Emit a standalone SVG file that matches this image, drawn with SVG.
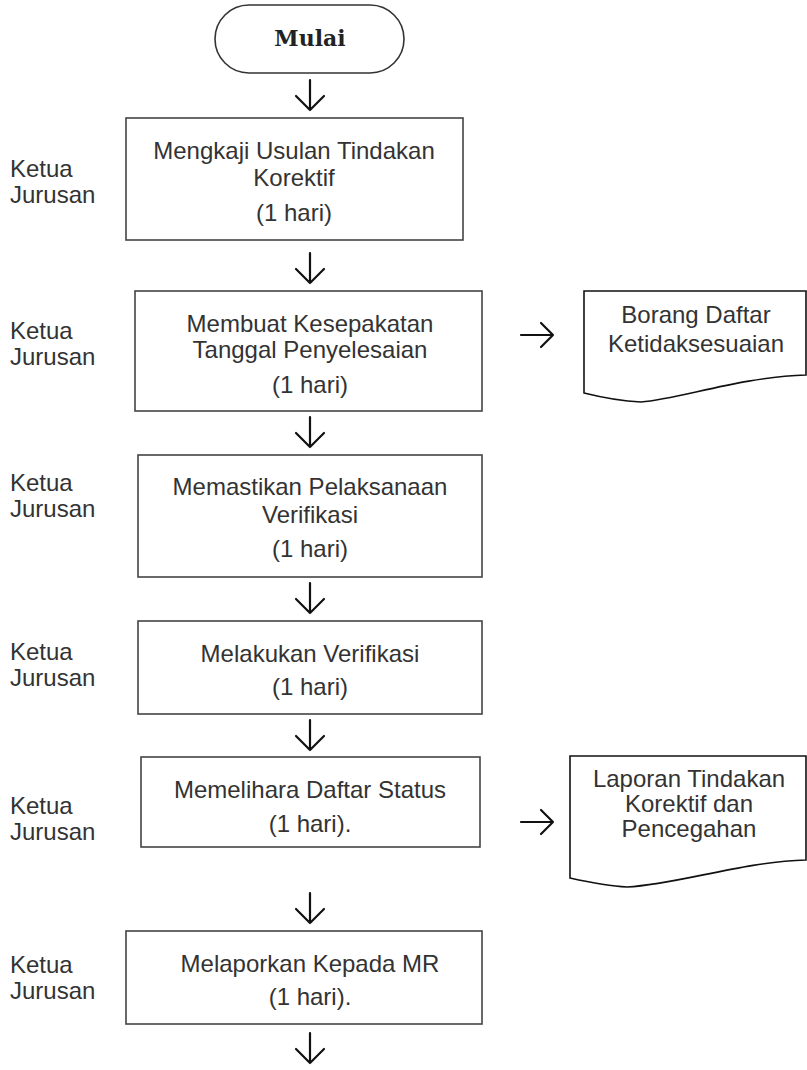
<svg xmlns="http://www.w3.org/2000/svg" width="807" height="1070" viewBox="0 0 807 1070">
<style>
.bg{fill:#ffffff}
.box{fill:#ffffff;stroke:#444444;stroke-width:1.6}
.doc{fill:#ffffff;stroke:#111111;stroke-width:1.6}
.t{font-family:"Liberation Sans",Arial,sans-serif;font-size:24px;fill:#333333;text-anchor:middle}
.lbl{font-family:"Liberation Sans",Arial,sans-serif;font-size:24px;fill:#333333}
.start{font-family:"DejaVu Serif",serif;font-weight:bold;font-size:22px;fill:#222222;text-anchor:middle}
.arr{fill:none;stroke:#111111;stroke-width:2.2;stroke-linecap:round;stroke-linejoin:round}
</style>
<rect class="bg" x="0" y="0" width="807" height="1070"/>
<g id="start">
<rect class="box" x="215" y="5" width="189" height="68" rx="34" ry="34" style="stroke:#333333"/>
<text class="start" x="310" y="46">Mulai</text>
</g>
<g id="step1">
<rect class="box" x="126" y="118" width="337" height="122"/>
<text class="t" x="294" y="159">Mengkaji Usulan Tindakan</text>
<text class="t" x="294" y="186">Korektif</text>
<text class="t" x="294" y="221">(1 hari)</text>
</g>
<g id="step2">
<rect class="box" x="135" y="291" width="347" height="120"/>
<text class="t" x="310" y="332">Membuat Kesepakatan</text>
<text class="t" x="310" y="358">Tanggal Penyelesaian</text>
<text class="t" x="310" y="393">(1 hari)</text>
</g>
<g id="step3">
<rect class="box" x="138" y="455" width="344" height="122"/>
<text class="t" x="310" y="495">Memastikan Pelaksanaan</text>
<text class="t" x="310" y="523">Verifikasi</text>
<text class="t" x="310" y="557">(1 hari)</text>
</g>
<g id="step4">
<rect class="box" x="138" y="621" width="344" height="93"/>
<text class="t" x="310" y="662">Melakukan Verifikasi</text>
<text class="t" x="310" y="695">(1 hari)</text>
</g>
<g id="step5">
<rect class="box" x="141" y="757" width="339" height="90"/>
<text class="t" x="310" y="798">Memelihara Daftar Status</text>
<text class="t" x="310" y="832">(1 hari).</text>
</g>
<g id="step6">
<rect class="box" x="126" y="931" width="356" height="93"/>
<text class="t" x="310" y="972">Melaporkan Kepada MR</text>
<text class="t" x="310" y="1005">(1 hari).</text>
</g>
<g id="doc1">
<path class="doc" d="M584,393 V291 H806 V375 C740,377 680,399 641,402 C620,401 600,397 584,393 Z"/>
<text class="t" x="696" y="323">Borang Daftar</text>
<text class="t" x="696" y="352">Ketidaksesuaian</text>
</g>
<g id="doc2">
<path class="doc" d="M570,878 V756 H806 V860 C740,862 680,884 627,887 C606,886 588,882 570,878 Z"/>
<text class="t" x="689" y="787">Laporan Tindakan</text>
<text class="t" x="689" y="812">Korektif dan</text>
<text class="t" x="689" y="837">Pencegahan</text>
</g>
<g id="labels">
<text class="lbl" x="10" y="177">Ketua</text>
<text class="lbl" x="10" y="203">Jurusan</text>
<text class="lbl" x="10" y="339">Ketua</text>
<text class="lbl" x="10" y="365">Jurusan</text>
<text class="lbl" x="10" y="491">Ketua</text>
<text class="lbl" x="10" y="517">Jurusan</text>
<text class="lbl" x="10" y="660">Ketua</text>
<text class="lbl" x="10" y="686">Jurusan</text>
<text class="lbl" x="10" y="814">Ketua</text>
<text class="lbl" x="10" y="840">Jurusan</text>
<text class="lbl" x="10" y="973">Ketua</text>
<text class="lbl" x="10" y="999">Jurusan</text>
</g>
<g id="connectors">
<path class="arr" d="M310,80 V110 M296,96 L310,110 L324,96"/>
<path class="arr" d="M310,253 V283 M296,269 L310,283 L324,269"/>
<path class="arr" d="M310,417 V447 M296,433 L310,447 L324,433"/>
<path class="arr" d="M310,583 V613 M296,599 L310,613 L324,599"/>
<path class="arr" d="M310,720 V750 M296,736 L310,750 L324,736"/>
<path class="arr" d="M310,893 V923 M296,909 L310,923 L324,909"/>
<path class="arr" d="M310,1033 V1063 M296,1049 L310,1063 L324,1049"/>
<path class="arr" d="M521,335 H553 M541,323 L553,335 L541,347"/>
<path class="arr" d="M521,822 H553 M541,810 L553,822 L541,834"/>
</g>
</svg>
